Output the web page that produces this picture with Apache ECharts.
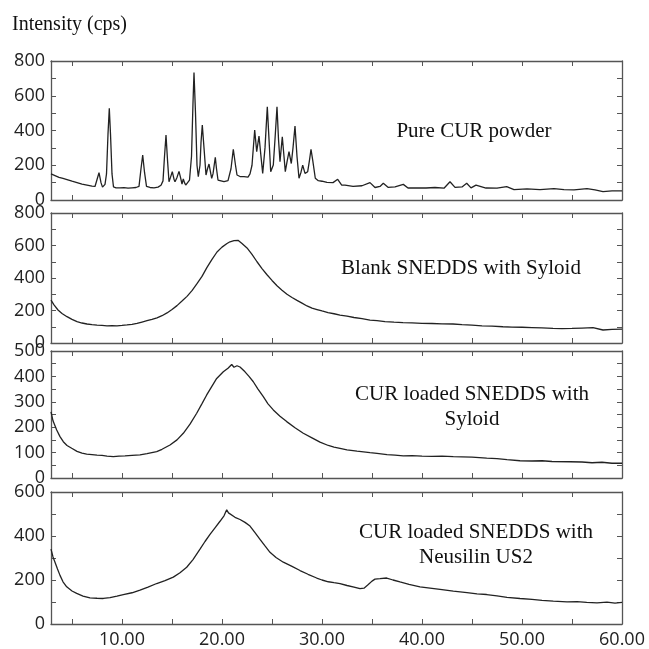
<!DOCTYPE html>
<html>
<head>
<meta charset="utf-8">
<script src="https://cdn.jsdelivr.net/npm/echarts@6/dist/echarts.min.js"></script>
<style>html,body{margin:0;padding:0;background:#fff}#c{width:649px;height:649px}</style>
</head>
<body>
<div id="c"></div>
<script>
// ---------- data ----------
const pureAngle = [2.9,3.3,3.7,4.1,4.5,5.0,5.5,6.0,6.5,7.0,7.3,7.5,7.7,7.9,8.05,8.3,8.45,8.6,8.73,8.85,9.0,9.15,9.4,9.8,10.2,10.6,11.0,11.4,11.7,11.9,12.07,12.25,12.45,12.8,13.2,13.6,13.9,14.1,14.25,14.4,14.55,14.7,14.85,15.03,15.2,15.3,15.5,15.7,15.85,16.0,16.13,16.25,16.37,16.55,16.75,16.95,17.1,17.2,17.35,17.5,17.63,17.8,17.9,18.03,18.2,18.4,18.55,18.7,18.85,18.97,19.1,19.33,19.45,19.6,19.8,20.2,20.6,20.9,21.13,21.35,21.5,21.8,22.2,22.6,22.8,23.0,23.27,23.47,23.7,23.9,24.07,24.3,24.53,24.7,24.87,25.13,25.3,25.5,25.65,25.8,26.03,26.2,26.33,26.5,26.7,26.93,27.1,27.3,27.5,27.7,27.9,28.07,28.3,28.57,28.75,28.9,29.07,29.33,29.63,30.0,30.5,31.1,31.57,31.97,32.3,33.1,34.0,34.8,35.3,35.8,36.13,36.6,37.3,38.13,38.6,39.5,40.4,41.3,42.2,42.8,43.3,44.0,44.47,44.9,45.4,46.4,47.5,48.47,49.2,50.5,51.8,53.2,54.2,55.2,56.5,57.3,58.1,59.0,60.0];
const pureIntensity = [150,140,130,124,117,108,100,92,86,80,78,85,157,100,74,90,150,380,528,380,150,75,70,70,71,68,70,72,78,180,259,160,78,72,70,74,85,110,250,374,230,105,130,163,120,105,130,165,130,92,121,100,86,95,115,250,560,733,500,200,134,200,330,432,300,144,180,207,160,125,150,246,180,115,110,106,112,180,292,200,144,135,134,132,150,200,403,278,368,250,153,300,537,350,163,201,350,537,350,221,364,250,163,220,278,210,300,426,250,125,160,201,153,163,230,292,230,125,111,108,102,100,119,86,86,78,82,100,72,78,96,73,75,90,69,70,69,72,68,105,73,75,96,70,86,69,68,77,60,64,60,65,60,58,65,58,48,53,52];

const blankAngle = [2.9,3.2,3.6,4.0,4.5,5.0,5.5,6.0,6.5,7.0,7.5,8.0,8.5,9.0,9.5,10.0,10.5,11.0,11.5,12.0,12.5,13.0,13.5,14.0,14.5,15.0,15.5,16.0,16.5,17.0,17.5,18.0,18.5,19.0,19.5,20.0,20.5,20.8,21.0,21.2,21.4,21.6,21.8,22.0,22.5,23.0,23.5,24.0,24.5,25.0,25.5,26.0,26.5,27.0,27.5,28.0,28.5,29.0,29.5,30.0,30.6,31.2,31.8,32.5,33.2,34.0,34.8,35.5,36.3,37.2,38.1,39.0,40.0,41.0,42.0,43.1,44.0,45.0,46.0,47.0,48.1,49.0,50.0,51.0,52.0,53.1,54.0,55.0,56.0,57.1,58.1,59.0,60.0];
const blankIntensity = [264,235,203,182,162,145,131,123,117,113,110,108,106,107,106,108,111,115,121,129,137,145,155,168,185,206,230,258,287,322,365,410,465,515,560,590,612,623,615,630,618,632,622,612,585,545,500,458,420,385,352,325,300,280,262,245,228,215,206,197,187,180,172,165,157,150,141,138,132,128,125,124,121,120,118,117,113,110,106,104,100,98,97,95,93,90,89,90,92,94,80,84,86];

const syloidAngle = [2.9,3.1,3.47,3.8,4.13,4.5,4.97,5.5,6.0,6.47,7.0,7.5,8.0,8.5,9.13,9.7,10.3,11.0,11.8,12.5,13.47,14.0,14.8,15.5,16.13,16.8,17.47,18.0,18.47,19.0,19.47,20.13,20.6,20.97,21.2,21.5,21.8,22.0,22.3,22.7,23.13,23.6,24.13,24.6,25.13,25.8,26.47,27.3,28.13,29.0,29.8,30.63,31.2,31.8,32.5,33.5,34.8,35.5,36.5,37.3,38.13,39.0,40.0,41.0,42.0,43.13,44.0,45.0,46.47,47.5,48.5,49.8,51.0,52.0,53.0,54.8,56.0,57.0,58.0,59.0,60.0];
const syloidIntensity = [260,225,189,163,143,128,117,105,98,94,92,90,89,86,84,86,87,89,91,96,104,113,130,150,176,212,255,293,327,362,392,418,432,447,436,442,437,432,418,400,379,350,320,292,268,243,222,198,176,158,141,128,122,117,111,106,100,97,92,90,87,88,86,85,86,84,83,82,78,76,72,68,67,68,65,64,63,60,62,58,58];

const neusilinAngle = [2.9,3.1,3.3,3.55,3.8,4.1,4.47,5.0,5.47,6.1,6.8,7.5,8.13,8.8,9.5,10.13,11.0,11.8,12.6,13.47,14.3,15.13,15.8,16.47,17.1,17.8,18.3,18.8,19.3,19.8,20.2,20.47,20.65,20.8,21.3,21.8,22.3,22.8,23.3,23.8,24.3,24.8,25.4,26.13,27.0,27.8,28.6,29.47,30.0,30.63,31.2,31.8,32.5,33.2,33.8,34.2,34.6,35.0,35.3,35.8,36.47,37.1,37.8,38.7,39.8,41.0,42.0,43.13,44.5,45.5,46.47,47.5,48.5,49.8,51.0,52.0,53.13,54.5,55.5,56.47,57.5,58.5,59.3,60.0];
const neusilinIntensity = [340,305,281,250,221,192,169,150,139,127,119,117,116,120,127,134,142,154,168,184,197,213,233,258,293,340,375,407,437,467,492,519,505,497,485,475,462,445,415,385,355,326,302,281,262,243,226,209,200,192,188,184,175,168,161,163,178,195,204,206,209,200,191,180,169,162,156,149,143,137,134,128,121,116,112,107,104,101,102,98,96,99,95,98];

const xLabelValues = [10,20,30,40,50,60];
const xTickValues = [5,10,15,20,25,30,35,40,45,50,55,60];
const panelNames = ['Pure CUR powder','Blank SNEDDS with Syloid','CUR loaded SNEDDS with\nSyloid','CUR loaded SNEDDS with\nNeusilin US2'];
const yMax = [800,800,500,600];
const yLabelValues = [[0,200,400,600,800],[0,200,400,600,800],[0,100,200,300,400,500],[0,200,400,600]];
const yTickValues = [[0,100,200,300,400,500,600,700,800],[0,100,200,300,400,500,600,700,800],[0,50,100,150,200,250,300,350,400,450,500],[0,100,200,300,400,500,600]];
const yTitle = 'Intensity (cps)';

// ---------- layout ----------
const grids = [
  {left:51, top:61, width:571, height:139},
  {left:51, top:213, width:571, height:130},
  {left:51, top:351, width:571, height:127},
  {left:51, top:492, width:571, height:134}
];
const textPos = [[474,131],[461,268],[472,407],[476,545]];
const xs = [pureAngle, blankAngle, syloidAngle, neusilinAngle];
const ys = [pureIntensity, blankIntensity, syloidIntensity, neusilinIntensity];

const axisColor = '#555';
const lineStyle = {color: axisColor, width: 1.3};
const tickStyle = {color: axisColor, width: 1};
const labelFont = {fontFamily: 'Open Sans', fontSize: 18, color: '#222'};

const xAxis = [], yAxis = [], series = [];
grids.forEach((g, i) => {
  const last = i === 3;
  xAxis.push({
    type:'value', gridIndex:i, min:2.9, max:60, position:'bottom',
    axisLine:{show:true, onZero:false, lineStyle},
    axisTick:{show:true, inside:true, length:5, lineStyle:tickStyle, customValues:xTickValues},
    axisLabel:{show:last, customValues:xLabelValues, margin:7, formatter:v => v.toFixed(2), ...labelFont},
    splitLine:{show:false}
  });
  xAxis.push({
    type:'value', gridIndex:i, min:2.9, max:60, position:'top',
    axisLine:{show:true, onZero:false, lineStyle},
    axisTick:{show:true, inside:true, length:5, lineStyle:tickStyle, customValues:xTickValues},
    axisLabel:{show:false}, splitLine:{show:false}
  });
  yAxis.push({
    type:'value', gridIndex:i, min:0, max:yMax[i], position:'left',
    axisLine:{show:true, onZero:false, lineStyle},
    axisTick:{show:true, inside:true, length:5, lineStyle:tickStyle, customValues:yTickValues[i]},
    axisLabel:{show:true, customValues:yLabelValues[i], margin:6, padding:[0,0,6,0], ...labelFont},
    splitLine:{show:false}
  });
  yAxis.push({
    type:'value', gridIndex:i, min:0, max:yMax[i], position:'right',
    axisLine:{show:true, onZero:false, lineStyle},
    axisTick:{show:true, inside:true, length:5, lineStyle:tickStyle, customValues:yTickValues[i]},
    axisLabel:{show:false}, splitLine:{show:false}
  });
  series.push({
    type:'line', xAxisIndex:i*2, yAxisIndex:i*2,
    data: xs[i].map((x, k) => [x, ys[i][k]]),
    showSymbol:false, smooth:false,
    lineStyle:{color:'#222', width:1.3},
    animation:false
  });
});

const graphic = [{
  type:'text', left:12, top:15,
  style:{text:yTitle, font:'20px "Liberation Serif", serif', fill:'#111'}
}];
panelNames.forEach((t, i) => {
  graphic.push({
    type:'text', x:textPos[i][0], y:textPos[i][1],
    style:{text:t, font:'21px "Liberation Serif", serif', fill:'#111', align:'center', verticalAlign:'middle', lineHeight:25}
  });
});

const chart = echarts.init(document.getElementById('c'), null, {renderer:'canvas'});
chart.setOption({
  animation:false,
  backgroundColor:'#fff',
  grid: grids,
  xAxis, yAxis, series, graphic
});
</script>
</body>
</html>
